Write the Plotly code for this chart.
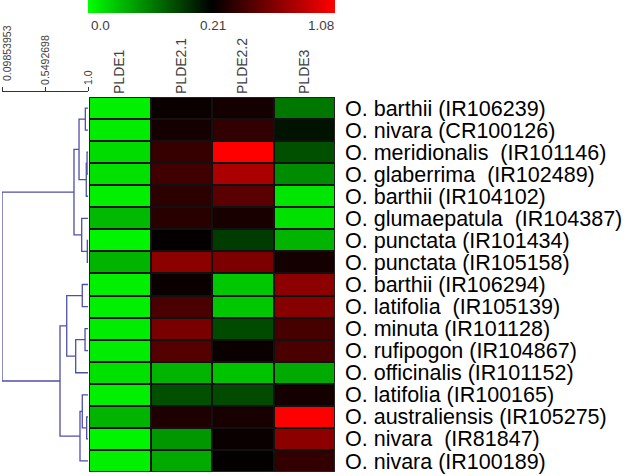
import plotly.graph_objects as go

# ---------------- data ----------------
columns = ["PLDE1", "PLDE2.1", "PLDE2.2", "PLDE3"]
rows = [
    "O. barthii (IR106239)",
    "O. nivara (CR100126)",
    "O. meridionalis\u00a0 (IR101146)",
    "O. glaberrima\u00a0 (IR102489)",
    "O. barthii (IR104102)",
    "O. glumaepatula\u00a0 (IR104387)",
    "O. punctata (IR101434)",
    "O. punctata (IR105158)",
    "O. barthii (IR106294)",
    "O. latifolia\u00a0 (IR105139)",
    "O. minuta (IR101128)",
    "O. rufipogon (IR104867)",
    "O. officinalis (IR101152)",
    "O. latifolia (IR100165)",
    "O. australiensis (IR105275)",
    "O. nivara\u00a0 (IR81847)",
    "O. nivara (IR100189)",
]
plde1  = [0.012, 0.016, 0.029, 0.025, 0.012, 0.058, 0.008, 0.062, 0.012, 0.012, 0.016, 0.016, 0.025, 0.012, 0.062, 0.008, 0.012]
plde21 = [0.244, 0.278, 0.398, 0.432, 0.364, 0.346, 0.227, 0.688, 0.244, 0.466, 0.619, 0.500, 0.062, 0.144, 0.312, 0.086, 0.070]
plde22 = [0.278, 0.381, 1.080, 0.790, 0.517, 0.295, 0.161, 0.636, 0.045, 0.045, 0.148, 0.244, 0.049, 0.148, 0.295, 0.244, 0.227]
plde3  = [0.111, 0.194, 0.144, 0.095, 0.021, 0.025, 0.062, 0.278, 0.688, 0.671, 0.449, 0.466, 0.070, 0.278, 1.080, 0.688, 0.381]

# colour scale anchors (min, mid, max) and labels
scale_vals = [0.0, 0.21, 1.08]
scale_text = ["0.0", "0.21", "1.08"]

# dendrogram: merges (child a, child b, similarity); new node ids start at len(rows)
merges = [
    (0, 1, 0.972), (2, 3, 0.990), (18, 4, 0.982), (17, 19, 0.906),
    (6, 7, 0.993), (5, 21, 0.934), (20, 22, 0.853),
    (8, 9, 0.940), (10, 11, 0.969), (25, 12, 0.871), (24, 26, 0.777),
    (14, 15, 0.986), (13, 28, 0.940), (29, 16, 0.916), (27, 30, 0.7065),
    (23, 31, 0.09853953),
]
sim_ticks = [0.09853953, 0.5492698, 1.0]
sim_text = ["0.09853953", "0.5492698", "1.0"]

# ---------------- transforms ----------------
vmin, vmid, vmax = scale_vals
def to_t(v):
    if v <= vmid:
        return 0.5 * (v - vmin) / (vmid - vmin)
    return 0.5 + 0.5 * (v - vmid) / (vmax - vmid)

series = [plde1, plde21, plde22, plde3]
z = [[to_t(series[c][r]) for c in range(len(columns))] for r in range(len(rows))]

W, H = 630, 476
def px(x): return x / W
def py(y): return 1 - y / H

FONT = "Liberation Sans, Arial, sans-serif"
HX0, HX1, HY0, HY1 = 89, 335, 97, 472
GREY = "#404040"

fig = go.Figure()
fig.add_trace(go.Heatmap(
    z=z, x=list(range(len(columns))), y=list(range(len(rows))),
    colorscale=[[0, "#00ff00"], [0.5, "#000000"], [1, "#ff0000"]],
    zmin=0, zmax=1, xgap=2, ygap=2, hoverinfo="skip",
    colorbar=dict(orientation="h", x=px((HX0 + HX1) / 2 - 0.5), xanchor="center",
                  y=1, yanchor="top", len=HX1 - HX0 + 1, lenmode="pixels",
                  thickness=13, xpad=0, ypad=0, outlinewidth=0,
                  showticklabels=False, ticks=""),
))

# dendrogram lines
ypos = {i: float(i) for i in range(len(rows))}
xpos = {i: 1.0 for i in range(len(rows))}
dx, dy = [], []
nid = len(rows)
for a, b, s in merges:
    dx += [xpos[a], s, s, xpos[b], None]
    dy += [ypos[a], ypos[a], ypos[b], ypos[b], None]
    xpos[nid] = s
    ypos[nid] = (ypos[a] + ypos[b]) / 2
    nid += 1
fig.add_trace(go.Scatter(x=dx, y=dy, xaxis="x2", yaxis="y", mode="lines",
                         line=dict(color="#4f4fa6", width=1.3),
                         cliponaxis=False, hoverinfo="skip", showlegend=False))

# dark background behind the heatmap cells (cell borders)
fig.add_shape(type="rect", xref="x", yref="y", layer="below",
              x0=-0.5, x1=len(columns) - 0.5, y0=-0.5, y1=len(rows) - 0.5,
              fillcolor="#111111", line=dict(color="#333333", width=1))

# colour-scale labels
anchors = ["left", "center", "right"]
for val, txt, anc in zip(scale_vals, scale_text, anchors):
    xx = {"left": HX0, "center": (HX0 + HX1) / 2 + 1, "right": HX1 + 1}[anc]
    fig.add_annotation(text=txt, x=px(xx), y=py(25), xref="paper", yref="paper",
                       xanchor=anc, yanchor="middle", showarrow=False,
                       font=dict(family=FONT, size=13.5, color=GREY))

# first similarity label sits at the figure edge: place it just inside
fig.add_annotation(text=sim_text[0], x=px(0), y=py(82), xref="paper", yref="paper",
                   xanchor="left", yanchor="bottom", textangle=-90, showarrow=False,
                   borderpad=0, font=dict(family=FONT, size=10.5, color=GREY))

fig.update_layout(
    width=W, height=H, margin=dict(l=0, r=0, t=0, b=0, autoexpand=False),
    paper_bgcolor="white", plot_bgcolor="white", showlegend=False,
    font=dict(family=FONT),
    xaxis=dict(domain=[px(HX0), px(HX1)], range=[-0.5, len(columns) - 0.5],
               side="top", tickvals=list(range(len(columns))), ticktext=columns,
               tickangle=-90, ticks="", showgrid=False, zeroline=False,
               tickfont=dict(family=FONT, size=14, color=GREY),
               ticklabelstandoff=2, fixedrange=True, automargin=False),
    yaxis=dict(domain=[py(HY1), py(HY0)], range=[len(rows) - 0.5, -0.5],
               side="right", tickvals=list(range(len(rows))), ticktext=rows,
               ticks="", showgrid=False, zeroline=False,
               tickfont=dict(family=FONT, size=21.5, color="black"),
               ticklabelstandoff=9, fixedrange=True, automargin=False),
    xaxis2=dict(domain=[px(2), px(88)], range=[sim_ticks[0], 1.0],
                anchor="free", position=py(91), side="top",
                showline=True, linecolor="#333333", linewidth=1,
                ticks="outside", ticklen=4, tickcolor="#333333",
                tickvals=sim_ticks, ticktext=[""] + sim_text[1:], tickangle=-90,
                ticklabeloverflow="allow", ticklabelshift=1,
                tickfont=dict(family=FONT, size=10.5, color=GREY),
                showgrid=False, zeroline=False, fixedrange=True, automargin=False),
)

fig.write_html("out.html", config={"displayModeBar": False},
               post_script="document.body.style.margin='0px';")
